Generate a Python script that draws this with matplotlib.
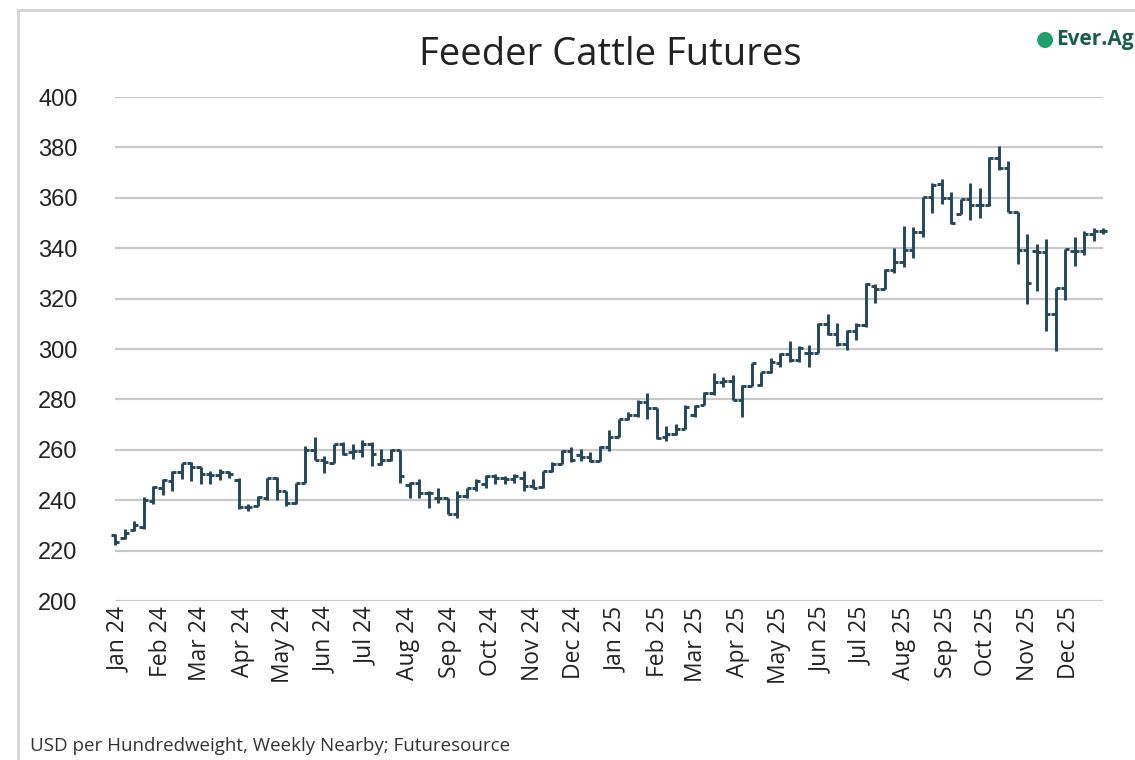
import matplotlib
matplotlib.use("Agg")
import matplotlib.pyplot as plt
import matplotlib.dates as mdates
from matplotlib.patches import Rectangle
import pandas as pd

# Weekly bars (Friday dates)
dates = pd.date_range("2023-12-29", periods=105, freq="7D")

opens = [226, 225, 228, 229.3, 239.7, 245, 247.5, 251, 254.7, 253,
         250.4, 250, 251, 248, 237.3, 237.7, 241, 248.8, 243.7, 238.7,
         247, 260, 256, 254.7, 262.4, 259, 259.5, 262.4, 254.4, 256,
         260, 246, 247, 243, 241, 241, 234.4, 241.7, 245, 246.4,
         249.7, 249, 248.4, 249, 245.7, 245.2, 251.7, 254.4, 259.7, 258,
         257, 255.7, 261, 265, 272.4, 273.7, 279, 276.4, 265, 266.4,
         268.4, 274, 277.7, 282.4, 287, 287.5, 279.7, 285.3, 285.7, 291,
         294.4, 298, 295.8, 298.4, 298.4, 310, 306, 302, 307.3, 309.5,
         325, 324, 331.4, 334.7, 339.3, 346.3, 360.5, 365.4, 360, 353.7,
         359.4, 357.2, 357.2, 375.8, 371.8, 354.4, 339.1, 339, 338.6, 313.9,
         324.2, 339, 339, 345.5, 346.8]
highs = [226.4, 228.4, 231.7, 241.3, 245.7, 248.4, 251.7, 254.7, 255, 253,
         251.7, 252.4, 251.7, 249, 238.4, 241.7, 249, 249.3, 243.7, 247,
         261.7, 265, 257.7, 262.4, 263, 262.4, 263.7, 263, 260.4, 260.4,
         260, 247.2, 248.4, 243.7, 245, 241, 243.7, 245, 248.4, 250,
         250.4, 249.7, 250.4, 251.7, 248.4, 251.7, 255, 260, 261, 260.4,
         259, 261.5, 267.7, 272.4, 275, 279.7, 282.4, 276.4, 269.3, 270.4,
         277.7, 277.7, 283, 290.4, 289, 289.7, 285.7, 294.4, 291, 296.4,
         298.4, 303, 301, 301.7, 310.4, 313.7, 310.4, 307.7, 310.4, 326,
         325.7, 331.7, 340, 349, 348.6, 360.5, 365.8, 367.4, 362.5, 359.4,
         366, 363.8, 376, 380.7, 374.7, 354.4, 345.5, 341.5, 343.5, 324.2,
         339.5, 344.4, 347, 348, 348]
lows = [222.4, 224.8, 227.7, 228.4, 238.4, 242.1, 243.5, 248.4, 247.5, 246.4,
        246.4, 248, 249, 236.4, 235.7, 237.7, 240, 240, 237.7, 238.4,
        246.7, 256, 250.8, 254.7, 258.1, 256.4, 257, 253.7, 254, 255.7,
        246.7, 240.8, 241, 237, 239, 234.4, 232.8, 241, 243.7, 245,
        246.4, 246.4, 247, 243.7, 244.8, 245, 251, 254.4, 255, 255.7,
        255, 255.7, 259.7, 265, 271.7, 273, 272.4, 264.4, 263.5, 265.7,
        268.4, 273, 277.7, 281.7, 285, 279.7, 273, 285.3, 285.3, 290.4,
        293, 295, 294.8, 293, 298.4, 305.7, 301, 299.8, 303.7, 308.7,
        318.4, 323.7, 330.3, 332.4, 336, 344.3, 353.9, 357.4, 349.7, 353.4,
        351, 351.8, 356.8, 371, 354.4, 333.8, 317.8, 322.9, 307, 299.4,
        319.6, 332.9, 337.2, 342.8, 345.5]
closes = [223.3, 227, 230, 240, 245.3, 248, 251, 254.7, 253, 250.4,
          250, 251, 250.4, 237.3, 237.3, 241.3, 248.8, 243.6, 239, 247,
          260, 256, 255, 262.4, 258.4, 259.5, 262.4, 258.4, 256, 260,
          249.7, 247, 243, 243, 240.8, 234.4, 241.7, 245, 247.7, 249.7,
          249, 248.4, 249.7, 245.7, 245, 251.7, 254.4, 259.7, 256, 257,
          255.7, 261, 265, 272.4, 273.7, 279, 276.4, 264.8, 266.4, 268.4,
          277, 277.3, 282.4, 287, 287.5, 279.7, 285.3, 294.4, 291, 295,
          298, 295.8, 300.4, 298.4, 310, 306, 302, 307.3, 309.5, 325.7,
          324, 331.4, 334.7, 339.3, 346.3, 360.5, 365, 360, 350.1, 359.4,
          357.2, 357.2, 375.8, 371.8, 354.4, 339.1, 326.2, 338.6, 313.9, 324.2,
          339.5, 339, 345.5, 346.8, 347]

yticks = list(range(200, 401, 20))
title = "Feeder Cattle Futures"
footnote = "USD per Hundredweight, Weekly Nearby; Futuresource"

bar_color = "#24475a"
grid_color = "#c9c9c9"
text_font = ["Open Sans", "DejaVu Sans"]

fig = plt.figure(figsize=(11.35, 7.6), dpi=100)
fig.patch.set_facecolor("white")

# card border
fig.patches.append(Rectangle((18 / 1135, -0.05), 1.2, 1 - 10 / 760 + 0.05,
                             transform=fig.transFigure, fill=False,
                             edgecolor="#d4d4d4", lw=2.0, zorder=0))

ax = fig.add_axes([115 / 1135, 1 - 601 / 760, (1103 - 115) / 1135, (601 - 97) / 760])

tick = pd.Timedelta(days=3.0)
ax.vlines(dates, lows, highs, color=bar_color, lw=2.1, clip_on=False, zorder=3)
ax.hlines(opens, dates - tick, dates, color=bar_color, lw=2.1, clip_on=False, zorder=3)
ax.hlines(closes, dates, dates + tick, color=bar_color, lw=2.1, clip_on=False, zorder=3)

ax.set_ylim(200, 400)
ax.set_yticks(yticks)
ax.set_xlim(dates[0], dates[-1])
ax.grid(axis="y", color=grid_color, lw=1.6)
ax.set_axisbelow(True)
for s in ax.spines.values():
    s.set_visible(False)

ax.xaxis.set_major_locator(mdates.MonthLocator())
ax.xaxis.set_major_formatter(mdates.DateFormatter("%b %y"))
ax.tick_params(axis="both", length=0)
ax.tick_params(axis="y", pad=27)
ax.tick_params(axis="x", pad=4)
for lbl in ax.get_yticklabels():
    lbl.set_fontfamily(["Liberation Sans", "DejaVu Sans"])
    lbl.set_fontsize(17)
    lbl.set_color("#222222")
for lbl in ax.get_xticklabels():
    lbl.set_fontfamily(text_font)
    lbl.set_fontsize(16.5)
    lbl.set_rotation(90)
    lbl.set_color("#222222")

fig.text(610 / 1135, 1 - 55 / 760, title, ha="center", va="center",
         fontsize=27.5, family=text_font, color="#222222")
fig.text(30 / 1135, 1 - 746 / 760, footnote, ha="left", va="center",
         fontsize=13.5, family=text_font, color="#333333")

# logo
fig.text(1056 / 1135, 1 - 39 / 760, "Ever.Ag", ha="left", va="center",
         fontsize=15, family=text_font, fontweight="bold", color="#1a5e4a")
fig.text(1045 / 1135, 1 - 39 / 760, "\u25cf", ha="center", va="center",
         fontsize=15, color="#1f9e6e")

fig.savefig("out.png", dpi=100)
